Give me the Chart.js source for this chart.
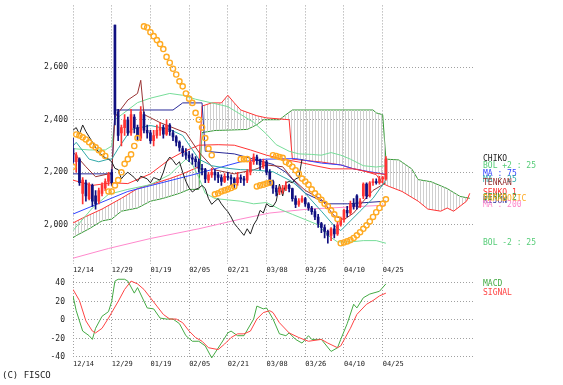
<!DOCTYPE html>
<html><head><meta charset="utf-8">
<script src="https://cdn.jsdelivr.net/npm/chart.js@4.4.1/dist/chart.umd.min.js"></script>
<style>
html,body{margin:0;padding:0;background:#fff;}
#wrap{position:relative;width:563px;height:385px;overflow:hidden;background:#fff;}
#c1{position:absolute;left:0;top:0;}
#c2{position:absolute;left:0;top:273px;}
#copy{position:absolute;left:2px;top:370px;font:9px "DejaVu Sans Mono",monospace;color:#222;white-space:pre;}
</style></head><body>
<div id="wrap"><canvas id="c1" width="563" height="276"></canvas><canvas id="c2" width="563" height="100"></canvas><div id="copy">(C) FISCO</div></div>
<script>
// ---------- data ----------
const dateLabels = ['12/14','12/29','01/19','02/05','02/21','03/08','03/26','04/10','04/25'];
const labelStep = 12;            // bars between date labels
const priceTicks = [2000, 2200, 2400, 2600];
const macdTicks = [-40, -20, 0, 20, 40];

const opens  = [2290,2240,2250,2120,2160,2100,2150,2110,2090,2120,2140,2165,2200,2760,2430,2350,2370,2400,2350,2410,2370,2330,2420,2360,2350,2320,2340,2360,2370,2345,2380,2350,2335,2315,2290,2275,2265,2255,2250,2240,2215,2210,2170,2190,2200,2190,2180,2165,2185,2180,2175,2160,2180,2175,2170,2200,2240,2258,2245,2225,2240,2200,2165,2140,2125,2135,2140,2150,2138,2100,2078,2090,2100,2080,2064,2050,2030,2005,1990,1975,1960,1985,1965,2000,2020,2055,2045,2080,2110,2070,2110,2155,2110,2160,2165,2160,2175,2175];
const highs  = [2330,2275,2255,2180,2170,2160,2155,2130,2140,2160,2175,2200,2210,2760,2440,2380,2420,2410,2440,2420,2380,2450,2430,2380,2360,2360,2380,2390,2380,2400,2385,2360,2340,2320,2300,2290,2280,2270,2260,2250,2230,2215,2200,2215,2210,2200,2190,2195,2200,2190,2180,2200,2190,2185,2210,2250,2270,2265,2250,2250,2245,2210,2170,2150,2145,2150,2165,2155,2140,2110,2100,2110,2105,2085,2070,2060,2040,2010,2000,1980,1990,2000,2010,2030,2060,2070,2090,2100,2115,2100,2160,2160,2165,2175,2175,2185,2185,2260];
const lows   = [2230,2200,2150,2080,2090,2095,2070,2060,2080,2110,2130,2150,2150,2380,2320,2300,2340,2340,2340,2350,2320,2320,2350,2330,2310,2300,2330,2340,2330,2340,2340,2320,2300,2280,2260,2250,2240,2230,2220,2200,2190,2160,2160,2180,2170,2160,2150,2160,2170,2150,2140,2150,2160,2150,2160,2190,2230,2230,2210,2215,2190,2150,2120,2110,2115,2120,2130,2125,2090,2065,2070,2085,2070,2055,2040,2020,1990,1970,1950,1930,1940,1950,1960,1995,2010,2030,2040,2060,2060,2065,2100,2100,2105,2150,2155,2155,2160,2170];
const closes = [2240,2265,2160,2170,2110,2150,2090,2080,2130,2150,2165,2190,2160,2420,2340,2370,2400,2350,2420,2370,2340,2430,2360,2350,2320,2340,2360,2370,2345,2380,2355,2335,2315,2295,2275,2265,2255,2250,2240,2215,2210,2175,2190,2200,2190,2180,2165,2185,2180,2175,2160,2180,2175,2170,2200,2240,2258,2245,2228,2240,2200,2165,2140,2125,2135,2140,2150,2138,2100,2078,2090,2100,2080,2064,2050,2030,2005,1990,1975,1960,1985,1965,2000,2020,2055,2045,2080,2070,2070,2090,2155,2110,2160,2165,2160,2175,2180,2250];
const chikoShift = 26;

// [bar index, value]
const bolUpper = [[0,2290],[5,2285],[10,2285],[12,2300],[13,2400],[17,2437],[20,2465],[24,2482],[30,2500],[34,2493],[38,2478],[43,2464],[48,2450],[52,2420],[56,2390],[60,2345],[63,2305],[67,2280],[70,2270],[74,2268],[77,2265],[80,2275],[83,2265],[86,2250],[90,2225],[94,2220],[97,2225]];
const bolLower = [[0,1978],[6,2064],[11,2116],[17,2135],[24,2153],[30,2191],[35,2250],[37,2230],[39,2180],[41,2120],[44,2100],[48,2095],[52,2090],[56,2080],[60,2085],[64,2060],[68,2040],[72,2020],[76,2000],[79,1960],[82,1935],[86,1935],[90,1940],[94,1940],[97,1930]];
const ma25  = [[0,2300],[1,2314],[5,2250],[8,2240],[11,2250],[12,2250],[14,2290],[18,2363],[24,2378],[30,2363],[34,2340],[39,2250],[43,2225],[48,2215],[52,2210],[56,2209],[62,2202],[68,2164],[72,2120],[77,2052],[81,1996],[83,1978],[86,2015],[89,2052],[93,2101],[97,2170]];
const maRed = [[0,2170],[6,2150],[12,2160],[17,2157],[24,2194],[30,2250],[34,2277],[39,2303],[45,2305],[50,2303],[55,2285],[60,2265],[65,2250],[70,2239],[75,2225],[80,2213],[87,2213],[92,2200],[97,2191]];
const ma75  = [[0,2041],[17,2127],[37,2190],[46,2220],[52,2240],[60,2250],[69,2252],[77,2235],[83,2228],[87,2213],[92,2202],[97,2192]];
const ma200 = [[0,1873],[11,1910],[24,1948],[39,1985],[52,2022],[61,2045],[73,2060],[97,2075]];
const tenkan = [[0,2277],[4,2221],[7,2183],[11,2194],[12,2194],[13,2410],[17,2475],[20,2500],[21,2550],[22,2420],[27,2389],[35,2350],[39,2277],[44,2209],[50,2194],[56,2209],[60,2228],[65,2221],[68,2176],[72,2131],[77,2097],[81,2034],[84,2020],[87,2045],[90,2090],[93,2131],[97,2160]];
const kijun = [[0,2194],[12,2194],[13,2437],[31,2437],[34,2464],[40,2464],[41,2280],[50,2270],[62,2230],[66,2200],[72,2120],[79,2080],[85,2080],[97,2090]];
const senko1 = [[0,2007],[3,2026],[9,2060],[15,2101],[20,2138],[24,2153],[30,2176],[34,2194],[39,2221],[40,2452],[43,2464],[46,2464],[48,2493],[50,2464],[52,2437],[57,2415],[60,2407],[67,2400],[68,2250],[77,2239],[83,2228],[87,2213],[89,2209],[94,2191],[96,2157],[98,2146],[102,2127],[107,2090],[110,2060],[114,2052],[116,2064],[118,2052],[120,2071],[122,2090],[123,2120]];
const senko2 = [[0,1951],[1,1959],[5,1985],[9,2015],[12,2022],[15,2052],[20,2064],[24,2090],[28,2101],[33,2120],[36,2135],[39,2135],[40,2351],[44,2359],[54,2363],[57,2381],[59,2400],[64,2400],[66,2419],[68,2437],[93,2437],[94,2426],[96,2419],[97,2250],[101,2247],[105,2213],[107,2172],[111,2164],[116,2138],[120,2108],[123,2101]];
const parabolic = [[0,2221],[1,2344],[2,2340],[3,2333],[4,2325],[5,2314],[6,2303],[7,2295],[8,2284],[9,2273],[10,2262],[11,2127],[12,2127],[13,2150],[14,2170],[15,2200],[16,2232],[17,2250],[18,2268],[19,2300],[20,2330],[22,2755],[23,2751],[24,2733],[25,2718],[26,2703],[27,2688],[28,2669],[29,2639],[30,2617],[31,2594],[32,2572],[33,2546],[34,2527],[35,2500],[36,2480],[37,2464],[38,2426],[39,2400],[40,2370],[41,2330],[42,2290],[43,2265],[44,2116],[45,2120],[46,2127],[47,2131],[48,2135],[49,2140],[50,2146],[52,2250],[53,2250],[54,2250],[57,2146],[58,2150],[59,2153],[60,2157],[61,2160],[62,2265],[63,2262],[64,2258],[65,2255],[66,2239],[67,2232],[68,2221],[69,2208],[70,2194],[71,2176],[72,2165],[73,2153],[74,2135],[75,2120],[76,2108],[77,2095],[78,2080],[79,2071],[80,2055],[81,2040],[82,2022],[83,1930],[84,1933],[85,1937],[86,1942],[87,1950],[88,1960],[89,1972],[90,1985],[91,1998],[92,2013],[93,2030],[94,2048],[95,2064],[96,2080],[97,2097]];

const macd = [[0,26],[1,10],[3,-12],[5,-17],[6,-21],[7,-9],[9,4],[11,9],[12,20],[13,42],[14,44],[16,44],[17,42],[19,29],[20,35],[23,13],[25,12],[27,2],[29,1],[31,1],[33,-4],[35,-17],[37,-23],[39,-23],[41,-28],[43,-41],[46,-25],[48,-14],[49,-12],[51,-17],[53,-17],[56,1],[57,15],[59,12],[60,13],[62,1],[64,-15],[66,-17],[67,-14],[69,-21],[71,-25],[73,-17],[74,-21],[77,-21],[80,-34],[82,-30],[83,-21],[85,-4],[87,17],[88,13],[90,24],[92,28],[95,31],[97,39]];
const signal = [[0,33],[2,21],[4,-1],[6,-12],[7,-14],[9,-9],[11,2],[14,20],[16,33],[18,42],[20,39],[22,33],[24,24],[26,15],[28,6],[30,1],[32,1],[34,-3],[36,-12],[38,-19],[40,-23],[42,-30],[45,-32],[47,-26],[49,-19],[51,-15],[53,-15],[55,-12],[57,1],[59,8],[61,10],[62,8],[64,-3],[67,-14],[70,-19],[73,-23],[77,-21],[79,-25],[82,-30],[83,-28],[86,-9],[88,6],[91,17],[93,21],[95,26],[97,29]];

// ---------- styling / helpers ----------
const MONO = '"DejaVu Sans Mono", "Liberation Mono", monospace';
const GRID = '#a0a0a0';
const UP = '#ff3333', DOWN = '#101080';
const toXY = a => a.map(p => ({x: p[0], y: p[1]}));
const XMAX = 124;

function hatch() {
  const c = document.createElement('canvas'); c.width = 3; c.height = 4;
  const g = c.getContext('2d'); g.fillStyle = '#cfcfcf'; g.fillRect(0, 0, 1, 4);
  return g.createPattern(c, 'repeat');
}

const sideLabels = {
  id: 'sideLabels',
  afterDatasetsDraw(chart, args, opts) {
    const ctx = chart.ctx; ctx.save();
    ctx.font = '8px ' + MONO; ctx.textBaseline = 'middle'; ctx.textAlign = 'left';
    (opts.items || []).forEach(it => {
      const k = chart.data.datasets.findIndex(d => d.id === it.id);
      if (k < 0) return;
      const pts = chart.getDatasetMeta(k).data;
      const p = pts[pts.length - 1];
      ctx.fillStyle = it.color;
      ctx.fillText(it.text, opts.x, Math.round(p.y));
    });
    ctx.restore();
  }
};

function line(id, data, color, order, extra) {
  return Object.assign({id, type: 'line', data: toXY(data), borderColor: color, backgroundColor: color,
    borderWidth: 1, pointRadius: 0, tension: 0, fill: false, order}, extra || {});
}

const xTickCommon = {
  align: 'start', autoSkip: false, maxRotation: 0, minRotation: 0, padding: 2,
  font: {family: MONO, size: 7}, color: '#222',
  callback: v => dateLabels[Math.round(v / labelStep)]
};
const xScale = (h) => ({
  type: 'linear', min: 0, max: XMAX, offset: false,
  afterBuildTicks: s => { s.ticks = dateLabels.map((_, k) => ({value: k * labelStep})); },
  afterFit: s => { s.height = h; s.paddingLeft = 0; s.paddingRight = 0; },
  ticks: xTickCommon,
  grid: {color: GRID, drawTicks: false, offset: false},
  border: {display: false, dash: [1, 2]}
});
const yFit = s => { s.width = 73; s.paddingTop = 0; s.paddingBottom = 0; };

// ---------- price chart ----------
const bodies = opens.map((o, i) => ({x: i, y: [Math.min(o, closes[i]), Math.max(o, closes[i])]}));
const wicks = lows.map((l, i) => ({x: i, y: [l, highs[i]]}));
const candleColor = ctx => closes[ctx.dataIndex] >= opens[ctx.dataIndex] ? UP : DOWN;
const chiko = closes.slice(chikoShift).map((v, k) => [k, v]);

const ds = [
  {id: 'sar', type: 'line', data: toXY(parabolic), showLine: false, pointRadius: 2.6, pointBorderWidth: 1.4,
   pointBorderColor: '#ffaa22', pointBackgroundColor: 'rgba(255,255,255,0)', borderColor: '#ffaa22', order: 0},
  {id: 'body', type: 'bar', data: bodies, backgroundColor: candleColor, barThickness: 2, grouped: false, minBarLength: 1, borderWidth: 0, order: 1},
  {id: 'wick', type: 'bar', data: wicks, backgroundColor: candleColor, barThickness: 1, grouped: false, borderWidth: 0, order: 2},
  line('chiko', chiko, '#222222', 3),
  line('ma25', ma25, '#30a8a8', 4),
  line('tenkan', tenkan, '#993333', 5),
  line('kijun', kijun, '#2a2a99', 6),
  line('maRed', maRed, '#ff3333', 6),
  line('ma75', ma75, '#3344ff', 7),
  line('bolU', bolUpper, '#77dd99', 8),
  line('bolL', bolLower, '#77dd99', 8),
  line('ma200', ma200, '#ff88cc', 9),
  line('senko1', senko1, '#ff3333', 10),
  line('senko2', senko2, '#339933', 11)
];
const s2idx = ds.findIndex(d => d.id === 'senko2');
const s1 = ds.find(d => d.id === 'senko1');
s1.fill = {target: s2idx, above: hatch(), below: hatch()};

new Chart(document.getElementById('c1'), {
  type: 'line',
  data: {datasets: ds},
  options: {
    responsive: false, animation: false, events: [],
    layout: {padding: {left: 0, right: 90, top: 0, bottom: 0}},
    plugins: {legend: {display: false}, tooltip: {enabled: false},
      sideLabels: {x: 483, items: [
        {id: 'chiko', text: 'CHIKO', color: '#222222'},
        {id: 'bolU', text: 'BOL +2 : 25', color: '#55cc77'},
        {id: 'ma75', text: 'MA : 75', color: '#3344ff'},
        {id: 'ma25', text: 'MA : 25', color: '#30a8a8'},
        {id: 'tenkan', text: 'TENKAN', color: '#993333'},
        {id: 'senko1', text: 'SENKO 1', color: '#ff3333'},
        {id: 'kijun', text: 'KIJUN', color: '#2a2a99'},
        {id: 'senko2', text: 'SENKO 2', color: '#339933'},
        {id: 'sar', text: 'PARABOLIC', color: '#ffaa22'},
        {id: 'ma200', text: 'MA : 200', color: '#ff88cc'},
        {id: 'bolL', text: 'BOL -2 : 25', color: '#55cc77'}
      ]}},
    scales: {
      x: xScale(12),
      y: {min: 1851, max: 2835,
        afterBuildTicks: s => { s.ticks = priceTicks.map(v => ({value: v})); },
        afterFit: yFit,
        ticks: {padding: 5, font: {family: MONO, size: 8}, color: '#222', callback: v => v.toLocaleString('en-US')},
        grid: {color: GRID, drawTicks: false},
        border: {display: false, dash: [1, 2]}}
    }
  },
  plugins: [sideLabels]
});

// ---------- MACD chart ----------
new Chart(document.getElementById('c2'), {
  type: 'line',
  data: {datasets: [
    line('macd', macd, '#44aa44', 1),
    line('signal', signal, '#ff4444', 0)
  ]},
  options: {
    responsive: false, animation: false, events: [],
    layout: {padding: {left: 0, right: 90, top: 2, bottom: 0}},
    plugins: {legend: {display: false}, tooltip: {enabled: false},
      sideLabels: {x: 483, items: [
        {id: 'macd', text: 'MACD', color: '#44aa44'},
        {id: 'signal', text: 'SIGNAL', color: '#ff4444'}
      ]}},
    scales: {
      x: xScale(15),
      y: {min: -41.1, max: 48.6,
        afterBuildTicks: s => { s.ticks = macdTicks.map(v => ({value: v})); },
        afterFit: yFit,
        ticks: {padding: 8, font: {family: MONO, size: 8}, color: '#222'},
        grid: {color: GRID, drawTicks: false},
        border: {display: false, dash: [1, 2]}}
    }
  },
  plugins: [sideLabels]
});
</script></body></html>
